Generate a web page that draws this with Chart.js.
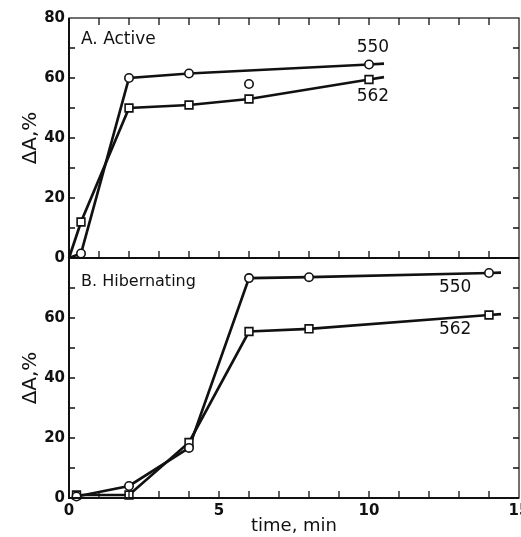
<!DOCTYPE html>
<html>
<head>
<meta charset="utf-8">
<script src="https://cdn.jsdelivr.net/npm/chart.js@4"></script>
<style>
body { margin: 0; background: #fff; width: 521px; height: 537px; position: relative; overflow: hidden; }
#topBox { position: absolute; left: 0; top: 0; width: 521px; height: 262px; }
#botBox { position: absolute; left: 0; top: 250px; width: 521px; height: 287px; }
</style>
</head>
<body>
<div id="topBox"><canvas id="activeChart"></canvas></div>
<div id="botBox"><canvas id="hibChart"></canvas></div>
<script>
// A. Active - measured points
const activeTime550 = [0.4, 2, 4, 10];
const active550 = [1.5, 60, 61.5, 64.5];
const activeTime562 = [0.4, 2, 4, 6, 10];
const active562 = [12, 50, 51, 53, 59.5];
const strayTime = [6];
const stray550 = [58];
// line start / tail beyond the last point
const activeLead = [0, 0];
const activeTail550 = [10.5, 64.8];
const activeTail562 = [10.5, 60.3];

// B. Hibernating - measured points
const hibTime550 = [0.25, 2, 4, 6, 8, 14];
const hib550 = [0.5, 4, 16.7, 73.3, 73.6, 75];
const hibTime562 = [0.25, 2, 4, 6, 8, 14];
const hib562 = [1, 1, 18.5, 55.5, 56.4, 61];
const hibTail550 = [14.4, 75.1];
const hibTail562 = [14.4, 61.3];

const xTicks = [0, 5, 10, 15];
const yTicks = [0, 20, 40, 60, 80];

const FONT = "'DejaVu Sans', sans-serif";

function pts(xs, ys) {
    return xs.map((t, i) => ({x: t, y: ys[i]}));
}

function lineSet(data) {
    return {data, showLine: true, borderColor: '#111', borderWidth: 2.7, pointRadius: 0, order: 2, clip: false};
}

function markSet(data, style) {
    return {
        data, showLine: false, pointStyle: style,
        pointRadius: style === 'rect' ? 5.5 : 4.2,
        pointBackgroundColor: '#fff', pointBorderColor: '#111', pointBorderWidth: 1.6,
        order: 1, clip: false
    };
}

const panelDeco = {
    id: 'panelDeco',
    afterDatasetsDraw(chart, args, opts) {
        const {ctx, chartArea: a, scales: {x, y}} = chart;
        ctx.save();
        ctx.strokeStyle = '#111';
        ctx.lineWidth = 1.2;
        ctx.strokeRect(a.left, a.top, a.right - a.left, a.bottom - a.top);
        ctx.lineWidth = 2;
        ctx.beginPath();
        ctx.moveTo(a.left, a.top);
        ctx.lineTo(a.left, a.bottom);
        ctx.lineTo(a.right, a.bottom);
        ctx.stroke();

        // inward tick marks
        ctx.lineWidth = 1.3;
        ctx.beginPath();
        for (let v = x.min + 1; v < x.max; v += 1) {
            const px = x.getPixelForValue(v);
            ctx.moveTo(px, a.bottom);
            ctx.lineTo(px, a.bottom - 7);
            if (opts.topTicks) {
                ctx.moveTo(px, a.top);
                ctx.lineTo(px, a.top + 7);
            }
        }
        for (let v = y.min + 10; v < y.max; v += 10) {
            const py = y.getPixelForValue(v);
            ctx.moveTo(a.left, py);
            ctx.lineTo(a.left + 6, py);
            ctx.moveTo(a.right, py);
            ctx.lineTo(a.right - 6, py);
        }
        ctx.stroke();

        ctx.fillStyle = '#111';
        ctx.textBaseline = 'middle';
        opts.labels.forEach(l => {
            ctx.font = l.font;
            ctx.textAlign = l.align || 'left';
            ctx.fillText(l.text, x.getPixelForValue(l.x), y.getPixelForValue(l.y));
        });
        ctx.restore();
    }
};

function makeChart(id, datasets, isBottom, labels) {
    return new Chart(document.getElementById(id), {
        type: 'scatter',
        data: {datasets},
        plugins: [panelDeco],
        options: {
            responsive: true,
            maintainAspectRatio: false,
            animation: false,
            devicePixelRatio: 1,
            layout: {
                autoPadding: false,
                padding: isBottom ? {top: 8, right: 2, bottom: 0, left: 0} : {top: 18, right: 2, bottom: 4, left: 0}
            },
            plugins: {
                legend: {display: false},
                tooltip: {enabled: false},
                panelDeco: {topTicks: !isBottom, labels}
            },
            scales: {
                x: {
                    type: 'linear', min: 0, max: 15,
                    display: isBottom,
                    grid: {display: false, drawTicks: false},
                    border: {display: false},
                    afterBuildTicks: s => { s.ticks = xTicks.map(v => ({value: v})); },
                    ticks: {padding: 4, color: '#111', font: {family: FONT, size: 15, weight: 'bold'}, maxRotation: 0},
                    title: {display: true, text: 'time, min', color: '#111', padding: {top: 0, bottom: 0}, font: {family: FONT, size: 18}},
                    afterFit: s => {
                        s.height = isBottom ? 39 : 0;
                        s.paddingLeft = 0;
                        s.paddingRight = 0;
                    }
                },
                y: {
                    type: 'linear', min: 0, max: 80,
                    grid: {display: false, drawTicks: false},
                    border: {display: false},
                    afterBuildTicks: s => { s.ticks = yTicks.map(v => ({value: v})); },
                    ticks: {
                        padding: 4, color: '#111',
                        font: {family: FONT, size: 15, weight: 'bold'},
                        callback: v => (isBottom && v === 80) ? null : v
                    },
                    title: {display: true, text: 'ΔA,%', color: '#111', padding: {top: 19}, font: {family: FONT, size: 20}},
                    afterFit: s => { s.width = 69; s.paddingTop = 0; s.paddingBottom = 0; }
                }
            }
        }
    });
}

makeChart('activeChart', [
    markSet(pts(activeTime550, active550), 'circle'),
    markSet(pts(activeTime562, active562), 'rect'),
    markSet(pts(strayTime, stray550), 'circle'),
    lineSet([{x: activeLead[0], y: activeLead[1]}, ...pts(activeTime550, active550), {x: activeTail550[0], y: activeTail550[1]}]),
    lineSet([{x: activeLead[0], y: activeLead[1]}, ...pts(activeTime562, active562), {x: activeTail562[0], y: activeTail562[1]}])
], false, [
    {text: 'A. Active', x: 0.4, y: 72.7, font: '17px ' + FONT},
    {text: '550', x: 10.13, y: 70, align: 'center', font: '17px ' + FONT},
    {text: '562', x: 10.13, y: 53.7, align: 'center', font: '17px ' + FONT}
]);

makeChart('hibChart', [
    markSet(pts(hibTime550, hib550), 'circle'),
    markSet(pts(hibTime562, hib562), 'rect'),
    lineSet([...pts(hibTime550, hib550), {x: hibTail550[0], y: hibTail550[1]}]),
    lineSet([...pts(hibTime562, hib562), {x: hibTail562[0], y: hibTail562[1]}])
], true, [
    {text: 'B. Hibernating', x: 0.4, y: 72, font: '16px ' + FONT},
    {text: '550', x: 12.87, y: 70.3, align: 'center', font: '17px ' + FONT},
    {text: '562', x: 12.87, y: 56, align: 'center', font: '17px ' + FONT}
]);
</script>
</body>
</html>
